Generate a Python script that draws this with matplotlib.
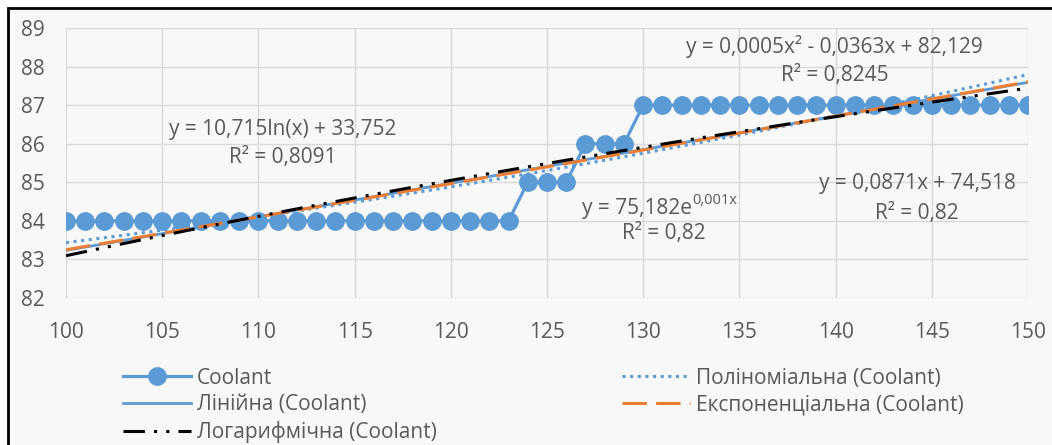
import numpy as np
import matplotlib
matplotlib.use('Agg')
import matplotlib.pyplot as plt
from matplotlib.patches import Rectangle

plt.rcParams['font.family'] = ['Open Sans', 'DejaVu Sans']

# Coolant data
x_vals = list(range(100, 151))
coolant = [84] * 24 + [85] * 3 + [86] * 3 + [87] * 21

x = np.array(x_vals, dtype=float)
y = np.array(coolant, dtype=float)

# Trend lines (same types Excel shows)
lin = np.polyfit(x, y, 1)
poly = np.polyfit(x, y, 2)
expo = np.polyfit(x, np.log(y), 1)
logf = np.polyfit(np.log(x), y, 1)
xs = np.linspace(100, 150, 200)

blue = '#5B9BD5'
orange = '#ED7D31'
grey_txt = '#595959'
bg = '#F8F8F8'
fs = 15

fig = plt.figure(figsize=(10.52, 4.45), dpi=100, facecolor='white')
fig.patches.append(Rectangle((8 / 1052, -0.1), 1.2, 1 - 8 / 445 + 0.1, transform=fig.transFigure,
                             facecolor=bg, edgecolor='black', linewidth=2, zorder=-1))
ax = fig.add_axes([66 / 1052, 1 - 298 / 445, (1028 - 66) / 1052, (298 - 28) / 445])
ax.set_facecolor(bg)

h_cool, = ax.plot(x, y, color=blue, lw=2.3, marker='o', ms=12.5, label='Coolant', zorder=3)
h_poly, = ax.plot(xs, np.polyval(poly, xs), color=blue, lw=2.2, ls=(0, (1, 1.5)),
                  label='Поліноміальна (Coolant)', zorder=4)
h_lin, = ax.plot(xs, np.polyval(lin, xs), color=blue, lw=2, label='Лінійна (Coolant)', zorder=4)
h_exp, = ax.plot(xs, np.exp(expo[1]) * np.exp(expo[0] * xs), color=orange, lw=2.2,
                 ls=(0, (8, 3)), label='Експоненціальна (Coolant)', zorder=5)
h_log, = ax.plot(xs, np.polyval(logf, np.log(xs)), color='black', lw=2.2,
                 ls=(0, (7, 3, 1, 3, 1, 3)), label='Логарифмічна (Coolant)', zorder=6)

ax.set_xlim(100, 150)
ax.set_ylim(82, 89)
ax.set_xticks(range(100, 151, 5))
ax.set_yticks(range(82, 90))
ax.grid(True, color='#D9D9D9', lw=1)
ax.set_axisbelow(True)
for s in ax.spines.values():
    s.set_visible(False)
ax.tick_params(length=0, labelsize=fs, labelcolor=grey_txt)
ax.tick_params(axis='x', pad=17)
ax.tick_params(axis='y', pad=32.5)
for lab in ax.get_yticklabels():
    lab.set_horizontalalignment('left')

tkw = dict(fontsize=fs, color=grey_txt, va='center', transform=fig.transFigure)


def put(px, py, s, ha='center', **kw):
    d = dict(tkw)
    d.update(kw)
    fig.text(px / 1052, 1 - py / 445, s, ha=ha, **d)


put(283, 130, 'y = 10,715ln(x) + 33,752')
put(283, 158, 'R² = 0,8091')
put(834, 47, 'y = 0,0005x² - 0,0363x + 82,129')
put(835, 76, 'R² = 0,8245')
put(917, 183, 'y = 0,0871x + 74,518')
put(917, 213, 'R² = 0,82')
put(692, 208, 'y = 75,182e', ha='right')
put(692, 200, '0,001x', ha='left', fontsize=10.5)
put(664, 234, 'R² = 0,82')

fig.legend([h_cool, h_lin, h_log, h_poly, h_exp],
           [h.get_label() for h in [h_cool, h_lin, h_log, h_poly, h_exp]],
           ncol=2, loc='upper left', bbox_to_anchor=(104 / 1052, 1 - 349 / 445),
           frameon=False, fontsize=fs, labelcolor=grey_txt, handlelength=3.27,
           handletextpad=0.29, columnspacing=8.9, labelspacing=0.27)

fig.savefig('out.png', dpi=100)
